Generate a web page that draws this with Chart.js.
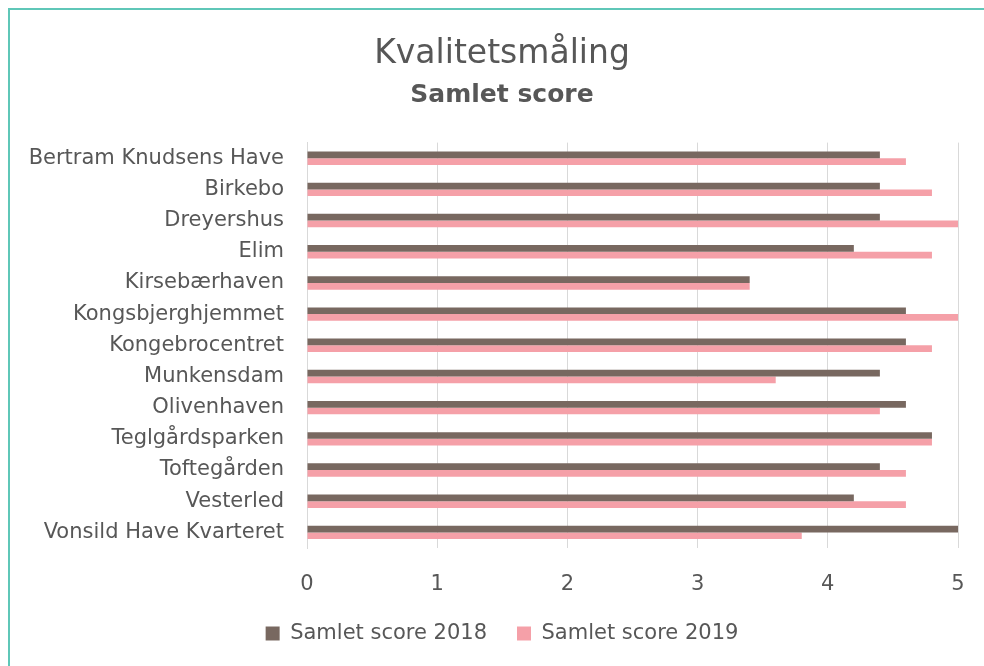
<!DOCTYPE html>
<html>
<head>
<meta charset="utf-8">
<title>Kvalitetsmåling</title>
<script src="https://cdn.jsdelivr.net/npm/chart.js@4"></script>
<style>
  html, body { margin: 0; padding: 0; background: #fff; overflow: hidden; }
  body { width: 984px; height: 666px; position: relative; }
  #frame {
    position: absolute; left: 8px; top: 8px; right: 0; bottom: 0;
    border-left: 2px solid #5fc7b8; border-top: 2px solid #5fc7b8;
  }
  #wrap { position: absolute; left: 10px; top: 0; width: 984px; height: 666px; }
</style>
</head>
<body>
<div id="frame"></div>
<div id="wrap"><canvas id="chart"></canvas></div>
<script>
// Kvalitetsmåling - samlet score pr. plejecenter, 2018 vs 2019

const categories = [
  "Bertram Knudsens Have",
  "Birkebo",
  "Dreyershus",
  "Elim",
  "Kirsebærhaven",
  "Kongsbjerghjemmet",
  "Kongebrocentret",
  "Munkensdam",
  "Olivenhaven",
  "Teglgårdsparken",
  "Toftegården",
  "Vesterled",
  "Vonsild Have Kvarteret",
];

const score2018 = [4.4, 4.4, 4.4, 4.2, 3.4, 4.6, 4.6, 4.4, 4.6, 4.8, 4.4, 4.2, 5.0];
const score2019 = [4.6, 4.8, 5.0, 4.8, 3.4, 5.0, 4.8, 3.6, 4.4, 4.8, 4.6, 4.6, 3.8];

const xTicks = [0, 1, 2, 3, 4, 5];

const textColor = "#575757";
const gridColor = "#d9d9d9";

Chart.defaults.font.family = "'DejaVu Sans', sans-serif";
Chart.defaults.color = textColor;

// y labels reach into the left padding; widen the label clip box after layout
const labelRoom = {
  id: "labelRoom",
  afterLayout(chart) {
    chart.scales.y.left = 0;
  },
};

const ctx = document.getElementById("chart").getContext("2d");

new Chart(ctx, {
  type: "bar",
  data: {
    labels: categories,
    datasets: [
      {
        label: "Samlet score 2018",
        data: score2018,
        backgroundColor: "#786860",
        categoryPercentage: 0.43,
        barPercentage: 1.0,
      },
      {
        label: "Samlet score 2019",
        data: score2019,
        backgroundColor: "#f5a0a8",
        categoryPercentage: 0.43,
        barPercentage: 1.0,
      },
    ],
  },
  options: {
    indexAxis: "y",
    responsive: true,
    maintainAspectRatio: false,
    animation: false,
    // equal side padding keeps title and legend centred like the original
    layout: { padding: { top: 0, right: 36, bottom: 12, left: 36 } },
    plugins: {
      title: {
        display: true,
        text: "Kvalitetsmåling",
        color: textColor,
        font: { size: 33, weight: "normal" },
        padding: { top: 35, bottom: 6 },
      },
      subtitle: {
        display: true,
        text: "Samlet score",
        color: textColor,
        font: { size: 25, weight: "bold" },
        padding: { top: 0, bottom: 32 },
      },
      legend: {
        position: "bottom",
        labels: {
          color: textColor,
          font: { size: 21 },
          boxWidth: 14,
          boxHeight: 14,
          padding: 30,
        },
      },
      tooltip: { enabled: false },
    },
    scales: {
      x: {
        min: 0,
        max: 5,
        afterBuildTicks: (scale) => {
          scale.ticks = xTicks.map((v) => ({ value: v }));
        },
        afterFit: (scale) => {
          scale.height = 45;
        },
        grid: { color: gridColor, lineWidth: 1, drawTicks: false },
        border: { display: false },
        ticks: { color: textColor, font: { size: 21 }, padding: 24 },
      },
      y: {
        afterFit: (scale) => {
          scale.width = 261;
        },
        grid: { display: false, drawTicks: false },
        border: { display: true, color: gridColor },
        ticks: { color: textColor, font: { size: 21 }, padding: 23, autoSkip: false },
      },
    },
  },
  plugins: [labelRoom],
});
</script>
</body>
</html>
